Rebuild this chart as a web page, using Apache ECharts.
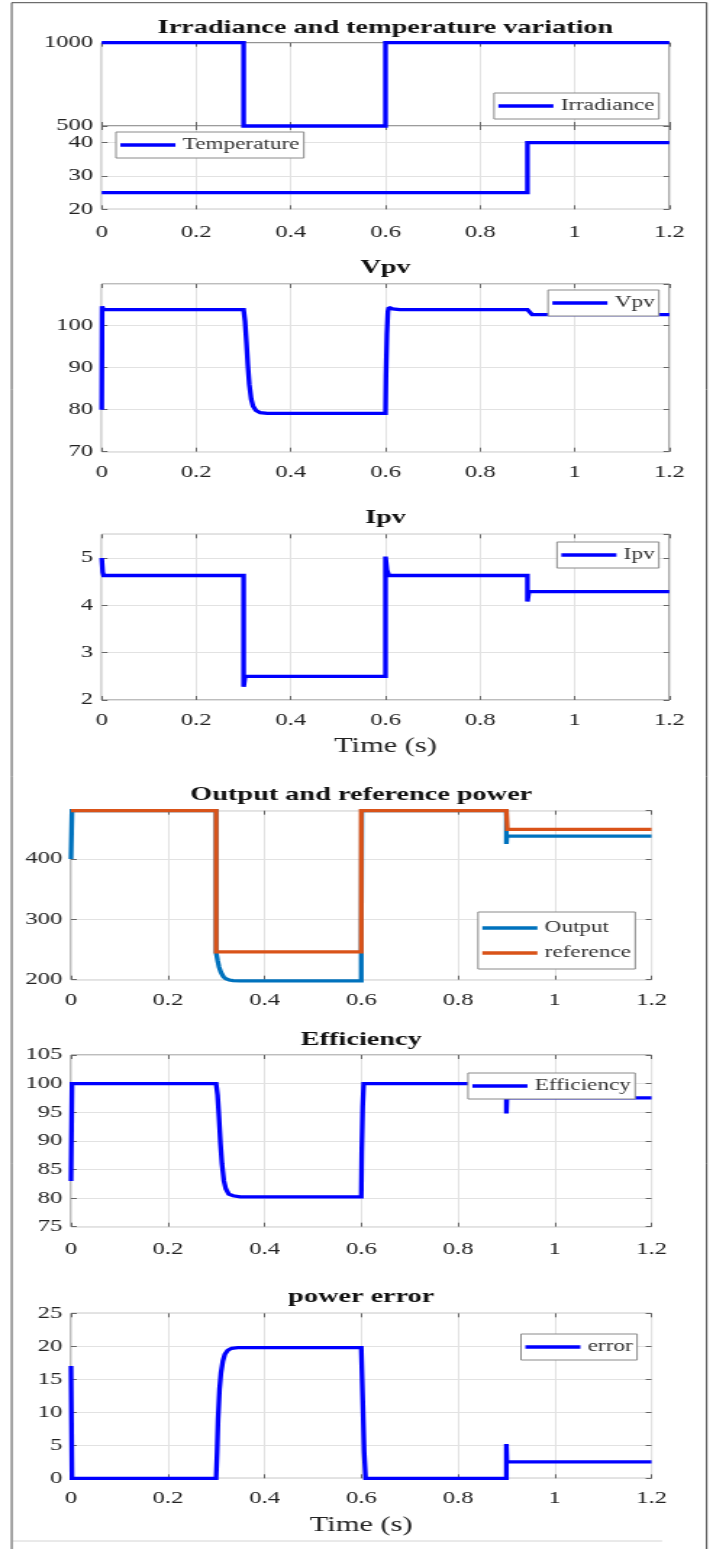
<!DOCTYPE html>
<html><head><meta charset="utf-8">
<script src="https://cdn.jsdelivr.net/npm/echarts@6/dist/echarts.min.js"></script>
<style>
html,body{margin:0;padding:0;background:#fff;overflow:hidden;}
#wrap{width:713px;height:1549px;overflow:hidden;position:relative;background:#fff;}
#chart{width:492px;height:1549px;transform:scaleX(1.44919);transform-origin:0 0;}
</style></head><body><div id="wrap"><div id="chart"></div></div>
<script>
// ---- data (time in s) ----
const irrT  = [0, 0.3, 0.3, 0.6, 0.6, 1.2];
const irrV  = [1000, 1000, 500, 500, 1000, 1000];
const tempT = [0, 0.9, 0.9, 1.2];
const tempV = [25, 25, 40, 40];
const vpvT  = [0, 0.0008, 0.003, 0.3, 0.303, 0.306, 0.309, 0.312, 0.316, 0.32, 0.326, 0.335, 0.35, 0.6, 0.601, 0.603, 0.605, 0.607, 0.615, 0.63, 0.9, 0.905, 0.91, 1.2];
const vpvV  = [80, 104.6, 103.8, 103.8, 101, 96, 90.5, 86, 82.5, 80.8, 79.8, 79.3, 79.1, 79.1, 88, 98, 103.3, 104.3, 104, 103.8, 103.8, 103.2, 102.6, 102.6];
const ipvT  = [0, 0.002, 0.004, 0.3, 0.3, 0.303, 0.6, 0.6, 0.603, 0.607, 0.9, 0.9, 0.903, 1.2];
const ipvV  = [5.0, 4.7, 4.63, 4.63, 2.28, 2.5, 2.5, 5.03, 4.75, 4.63, 4.63, 4.08, 4.29, 4.29];
const outT  = [0, 0.002, 0.3, 0.3, 0.303, 0.306, 0.31, 0.315, 0.32, 0.327, 0.335, 0.35, 0.6, 0.6, 0.601, 0.9, 0.9, 0.901, 1.2];
const outV  = [400, 480, 480, 245, 232, 221, 212, 205, 201.5, 199.5, 198.5, 198, 198, 245, 480, 480, 425, 438, 438];
const refT  = [0, 0.3, 0.3, 0.6, 0.6, 0.9, 0.902, 1.2];
const refV  = [480, 480, 246, 246, 480, 480, 449, 449];
const effT  = [0, 0.002, 0.3, 0.303, 0.306, 0.309, 0.312, 0.316, 0.32, 0.326, 0.335, 0.35, 0.6, 0.601, 0.603, 0.605, 0.9, 0.9, 0.901, 1.2];
const effV  = [83, 100, 100, 98, 94, 89.5, 86, 83, 81.6, 80.7, 80.4, 80.2, 80.2, 88, 96, 100, 100, 94.8, 97.5, 97.5];
const errT  = [0, 0.002, 0.3, 0.302, 0.304, 0.307, 0.31, 0.314, 0.318, 0.324, 0.332, 0.345, 0.6, 0.603, 0.606, 0.609, 0.9, 0.9, 0.901, 1.2];
const errV  = [17, 0, 0, 4, 9, 13.5, 16, 17.8, 18.8, 19.4, 19.7, 19.8, 19.8, 12, 4, 0, 0, 5.2, 2.5, 2.5];

const titles = ['Irradiance and temperature variation', 'Vpv', 'Ipv', 'Output and reference power', 'Efficiency', 'power error'];
const xLabelName = 'Time (s)';
// y ranges per panel: [min, max, tick step]
const yRanges = [[500, 1000, 500], [20, 45, 10], [70, 109.9, 10], [2, 5.5, 1], [200, 480, 100], [75, 105, 5], [0, 25, 5]];

// ---- layout (chart coordinates; canvas is stretched horizontally) ----
const S = 713 / 492;
const X = v => v / S;
const FONT = 'Liberation Serif';
const zip = (t, v) => t.map((x, i) => [x, v[i]]);
const fmt = v => String(Math.round(v * 1000) / 1000);

const grids = [
  {l: 101.7, r: 669.3, t: 42.7,  b: 126},
  {l: 101.7, r: 669.3, t: 126,   b: 209.3},
  {l: 101.7, r: 669.3, t: 284,   b: 451.7},
  {l: 101.7, r: 669.3, t: 534.3, b: 700},
  {l: 71,    r: 651.5, t: 810.7, b: 979.7},
  {l: 71,    r: 651.5, t: 1055,  b: 1226.7},
  {l: 71,    r: 651.5, t: 1313.3,b: 1478.3}
];
const grid = grids.map(g => ({
  left: X(g.l), width: X(g.r - g.l), top: g.t, height: g.b - g.t,
  show: true, borderColor: '#7a7a7a', borderWidth: 1, backgroundColor: 'transparent'
}));

const labelStyle = {fontFamily: FONT, fontSize: 17, fontWeight: 'normal', color: '#222', formatter: fmt};
const tickStyle = {show: true, inside: true, length: 4, lineStyle: {color: '#666'}};
const lineOff = {show: false, onZero: false};
function xAx(i, opts) {
  return Object.assign({
    type: 'value', gridIndex: i, min: 0, max: 1.2, interval: 0.2,
    axisLine: lineOff, axisTick: tickStyle,
    axisLabel: Object.assign({margin: 12}, labelStyle),
    splitLine: {show: true, lineStyle: {color: '#e2e2e2', width: 1}}
  }, opts || {});
}
function yAx(i, opts) {
  const r = yRanges[i];
  return Object.assign({
    type: 'value', gridIndex: i, min: r[0], max: r[1], interval: r[2],
    axisLine: lineOff, axisTick: tickStyle,
    axisLabel: Object.assign({margin: 6, showMaxLabel: true}, labelStyle),
    splitLine: {show: true, lineStyle: {color: '#e2e2e2', width: 1}}
  }, opts || {});
}
const noMax = {axisLabel: Object.assign({margin: 6, showMaxLabel: false}, labelStyle)};
const nameStyle = {fontFamily: FONT, fontSize: 21, color: '#222'};
const mirror = {axisLabel: {show: false}, splitLine: {show: false}};

const xAxis = [
  xAx(0, {axisLabel: {show: false}}),
  xAx(1, {axisLabel: Object.assign({margin: 15}, labelStyle)}),
  xAx(2),
  xAx(3, {name: xLabelName, nameLocation: 'middle', nameGap: 36, nameTextStyle: nameStyle}),
  xAx(4), xAx(5, {axisLabel: Object.assign({margin: 14}, labelStyle)}),
  xAx(6, {name: xLabelName, nameLocation: 'middle', nameGap: 37, nameTextStyle: nameStyle})
];
xAxis.forEach(a => { a.position = 'bottom'; });
const yAxis = [
  yAx(0, {splitLine: {show: false}}),
  yAx(1, noMax), yAx(2, noMax), yAx(3, noMax), yAx(4, noMax),
  yAx(5), yAx(6)
];
yAxis.forEach(a => { a.position = 'left'; });
// box ticks on top and right sides (MATLAB style)
for (let i = 0; i < 7; i++) {
  xAxis.push(xAx(i, Object.assign({position: 'top'}, mirror)));
  yAxis.push(yAx(i, Object.assign({position: 'right'}, mirror)));
}

const BLUE = '#0000ff';
function ser(name, i, t, v, color, clip) {
  return {
    name: name, type: 'line', xAxisIndex: i, yAxisIndex: i, data: zip(t, v),
    showSymbol: false, symbol: 'none', clip: clip, animation: false,
    lineStyle: {color: color, width: 3.3, join: 'miter', miterLimit: 1.6}, itemStyle: {color: color}
  };
}
const series = [
  ser('Irradiance', 0, irrT, irrV, BLUE, false),
  ser('Temperature', 1, tempT, tempV, BLUE, true),
  ser('Vpv', 2, vpvT, vpvV, BLUE, true),
  ser('Ipv', 3, ipvT, ipvV, BLUE, true),
  ser('Output', 4, outT, outV, '#0072bd', false),
  ser('reference', 4, refT, refV, '#d95319', false),
  ser('Efficiency', 5, effT, effV, BLUE, true),
  ser('error', 6, errT, errV, BLUE, false)
];

function leg(names, left, top, orient, pad, gap) {
  return {
    data: names, left: X(left), top: top, orient: orient || 'horizontal',
    icon: 'rect', itemWidth: 38, itemHeight: 3.5, itemGap: gap || 7,
    padding: pad || [5, 3, 5, 3], backgroundColor: '#fff', borderColor: '#8a8a8a', borderWidth: 1,
    selectedMode: false,
    textStyle: {fontFamily: FONT, fontSize: 16, color: '#333'}
  };
}
const legend = [
  leg(['Irradiance'], 494, 93),
  leg(['Temperature'], 116, 132),
  leg(['Vpv'], 548, 290),
  leg(['Ipv'], 557, 542),
  leg(['Output', 'reference'], 478, 912, 'vertical', [8, 3, 8, 3], 9),
  leg(['Efficiency'], 468, 1073),
  leg(['error'], 521, 1334)
];

const titleY = [28.3, 268, 518.3, 795, 1040, 1297];
const titleG = [0, 2, 3, 4, 5, 6];
const graphic = titles.map((t, k) => {
  const g = grids[titleG[k]];
  return {
    type: 'text', x: X((g.l + g.r) / 2), y: titleY[k], z: 10,
    style: {text: t, font: 'bold 19.5px "Liberation Serif"', fill: '#111',
            textAlign: 'center', textVerticalAlign: 'middle', align: 'center', verticalAlign: 'middle'}
  };
});
graphic.push({type: 'rect', shape: {x: X(11.7), y: 2.7, width: X(706.7 - 11.7), height: 1600},
  style: {fill: 'none', stroke: '#4a4a4a', lineWidth: 1}, z: 10, silent: true});
graphic.push({type: 'line', shape: {x1: X(13), y1: 1541, x2: X(662), y2: 1541},
  style: {stroke: '#d4d4d4', lineWidth: 1}, z: 10, silent: true});

const chart = echarts.init(document.getElementById('chart'), null, {renderer: 'canvas', devicePixelRatio: 1});
chart.setOption({
  animation: false,
  backgroundColor: '#fff',
  grid: grid, xAxis: xAxis, yAxis: yAxis, series: series, legend: legend, graphic: graphic
});
</script></body></html>
